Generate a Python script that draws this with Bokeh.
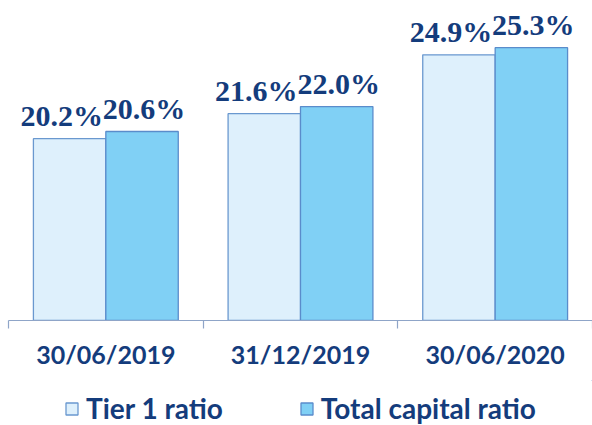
from bokeh.plotting import figure
from bokeh.layouts import column
from bokeh.models import ColumnDataSource, FixedTicker, Legend, LegendItem, LabelSet, Range1d
from bokeh.embed import file_html
from bokeh.resources import INLINE

categories = ["30/06/2019", "31/12/2019", "30/06/2020"]
series = ["Tier 1 ratio", "Total capital ratio"]
tier1 = [20.2, 21.6, 24.9]
total = [20.6, 22.0, 25.3]

NAVY = "#143C7C"
FONT = "Lato"
BASE = 10
BW = 0.372
FILL1, LINE1 = "#DEF0FC", "#6A98CF"
FILL2, LINE2 = "#80D0F5", "#5A8CCB"

pos = [i + 0.5 for i in range(len(categories))]
src = ColumnDataSource(dict(
    x1=[c - BW / 2 for c in pos],
    x2=[c + BW / 2 for c in pos],
    tier1=tier1,
    total=total,
    lab1=[f"{v:.1f}%" for v in tier1],
    lab2=[f"{v:.1f}%" for v in total],
))

p = figure(width=592, height=380,
           x_range=Range1d(0, len(categories)), y_range=Range1d(BASE, 27.5),
           output_backend="svg", toolbar_location=None, y_axis_location=None,
           min_border_left=8, min_border_right=0, min_border_top=8, min_border_bottom=60,
           outline_line_color=None, background_fill_color="white", border_fill_color="white")
p.grid.visible = False

r1 = p.vbar(x="x1", top="tier1", bottom=BASE, width=BW, source=src,
            fill_color=FILL1, line_color=LINE1, line_width=1.3)
r2 = p.vbar(x="x2", top="total", bottom=BASE, width=BW, source=src,
            fill_color=FILL2, line_color=LINE2, line_width=1.3)

for col, xcol, lab, xo in (("tier1", "x1", "lab1", -8), ("total", "x2", "lab2", 2)):
    p.add_layout(LabelSet(x=xcol, y=col, text=lab, source=src,
                          x_offset=xo, y_offset=13, text_align="center", text_baseline="alphabetic",
                          text_font=FONT, text_font_style="bold", text_font_size="30px",
                          text_color=NAVY))

ax = p.xaxis[0]
ax.ticker = FixedTicker(ticks=pos, minor_ticks=list(range(len(categories) + 1)))
ax.major_label_overrides = {c: lab for c, lab in zip(pos, categories)}
ax.axis_line_color = "#8FA5C8"
ax.axis_line_width = 1.2
ax.major_tick_line_color = None
ax.major_tick_out = 0
ax.major_tick_in = 0
ax.minor_tick_line_color = "#8FA5C8"
ax.minor_tick_line_width = 1.2
ax.minor_tick_out = 8
ax.minor_tick_in = 0
ax.major_label_standoff = 10
ax.major_label_text_font = FONT
ax.major_label_text_font_style = "bold"
ax.major_label_text_font_size = "25px"
ax.major_label_text_color = NAVY

# legend strip: same series, ranges placed away from the data so only the legend shows
p2 = figure(width=592, height=45, x_range=Range1d(-100, -97), y_range=Range1d(-100, -99),
            output_backend="svg", toolbar_location=None,
            x_axis_location=None, y_axis_location=None,
            min_border_left=0, min_border_right=0, min_border_top=0, min_border_bottom=0,
            outline_line_color=None, background_fill_color="white", border_fill_color="white")
p2.grid.visible = False
q1 = p2.vbar(x="x1", top="tier1", bottom=BASE, width=BW, source=src,
             fill_color=FILL1, line_color=LINE1, line_width=1.3)
q2 = p2.vbar(x="x2", top="total", bottom=BASE, width=BW, source=src,
             fill_color=FILL2, line_color=LINE2, line_width=1.3)

legend = Legend(items=[LegendItem(label=series[0], renderers=[q1]),
                       LegendItem(label=series[1], renderers=[q2])],
                orientation="horizontal", location=(56, 0),
                glyph_width=15, glyph_height=15, label_standoff=7, spacing=76,
                label_text_font=FONT, label_text_font_style="bold",
                label_text_font_size="28px", label_text_color=NAVY,
                border_line_color=None, background_fill_alpha=0,
                padding=0, margin=0)
p2.add_layout(legend, "center")

open("out.html", "w").write(file_html(column(p, p2, spacing=0), INLINE))
